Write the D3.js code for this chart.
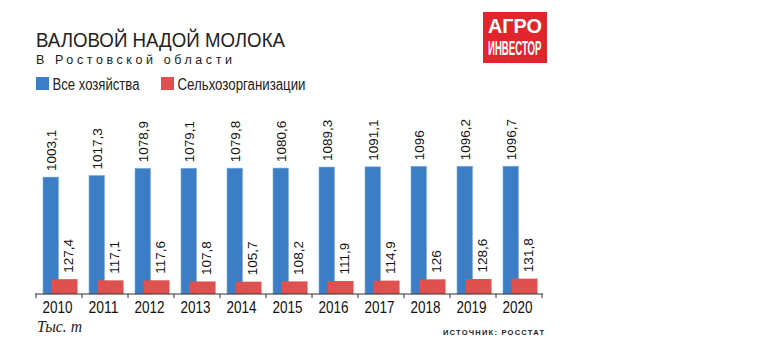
<!DOCTYPE html>
<html><head><meta charset="utf-8">
<script src="https://cdn.jsdelivr.net/npm/d3@7"></script>
<style>
body{margin:0;background:#fff;}
svg{display:block;}
</style></head>
<body>
<svg id="chart" width="782" height="357"></svg>
<script>
const years = ["2010","2011","2012","2013","2014","2015","2016","2017","2018","2019","2020"];
const allFarms = [1003.1,1017.3,1078.9,1079.1,1079.8,1080.6,1089.3,1091.1,1096,1096.2,1096.7];
const agriOrgs = [127.4,117.1,117.6,107.8,105.7,108.2,111.9,114.9,126,128.6,131.8];
const seriesNames = ["Все хозяйства","Сельхозорганизации"];
const title = "ВАЛОВОЙ НАДОЙ МОЛОКА";
const subtitle = "В Ростовской области";
const unitLabel = "Тыс. т";
const sourceLabel = "ИСТОЧНИК: РОССТАТ";

const BLUE = "#3b7ec6", RED = "#de514e";
const NARROW = "'Liberation Sans Narrow','Arial Narrow','Liberation Sans',Arial,sans-serif";
const SANS = "'Liberation Sans',Arial,sans-serif";
const fmt = v => String(v).replace(".", ",");

const svg = d3.select("#chart");
const x = d3.scaleBand().domain(years).range([36, 542]).paddingInner(0).paddingOuter(0);
const y = d3.scaleLinear().domain([0, 1100]).range([294, 165.8]);
const bw = x.bandwidth();

// Title
svg.append("text").attr("x", 36).attr("y", 46.5).text(title)
  .attr("font-family", NARROW).attr("font-size", 21).attr("fill", "#222")
  .attr("textLength", 249).attr("lengthAdjust", "spacingAndGlyphs");
svg.append("text").attr("x", 36).attr("y", 64).text(subtitle)
  .attr("font-family", SANS).attr("font-size", 12.5).attr("fill", "#222")
  .attr("textLength", 196).attr("lengthAdjust", "spacing");

// Legend
const leg = [{n: seriesNames[0], c: BLUE, x: 36, tw: 87}, {n: seriesNames[1], c: RED, x: 161, tw: 128}];
leg.forEach(l => {
  svg.append("rect").attr("x", l.x).attr("y", 77).attr("width", 13).attr("height", 13).attr("fill", l.c);
  svg.append("text").attr("x", l.x + 16.5).attr("y", 90).text(l.n)
    .attr("font-family", NARROW).attr("font-size", 16).attr("fill", "#222")
    .attr("textLength", l.tw).attr("lengthAdjust", "spacingAndGlyphs");
});

// Logo
svg.append("rect").attr("x", 483).attr("y", 12).attr("width", 64).attr("height", 51).attr("fill", "#e0262c");
svg.append("text").attr("x", 488).attr("y", 32.5).text("АГРО")
  .attr("font-family", NARROW).attr("font-weight", "bold").attr("font-size", 19.5).attr("fill", "#fff")
  .attr("textLength", 54).attr("lengthAdjust", "spacingAndGlyphs");
svg.append("text").attr("x", 488).attr("y", 54.5).text("ИНВЕСТОР")
  .attr("font-family", NARROW).attr("font-weight", "bold").attr("font-size", 19.5).attr("fill", "#fff")
  .attr("textLength", 53.5).attr("lengthAdjust", "spacingAndGlyphs");

// Bars
const g = svg.append("g");
const blueOff = 7, blueW = 15.5, redOff = 15.5, redW = 26;
g.selectAll(".b").data(years).join("rect")
  .attr("x", d => x(d) + blueOff).attr("width", blueW)
  .attr("y", (d, i) => y(allFarms[i])).attr("height", (d, i) => y(0) - y(allFarms[i]))
  .attr("fill", BLUE).attr("stroke", "#7fb0e0").attr("stroke-width", 0.6);
g.selectAll(".r").data(years).join("rect")
  .attr("x", d => x(d) + redOff).attr("width", redW)
  .attr("y", (d, i) => y(agriOrgs[i])).attr("height", (d, i) => y(0) - y(agriOrgs[i]))
  .attr("fill", RED);

// Value labels
g.selectAll(".bl").data(years).join("text")
  .attr("transform", (d, i) => `translate(${x(d) + blueOff + blueW / 2 + 4.8},${y(allFarms[i]) - 6}) rotate(-90)`)
  .text((d, i) => fmt(allFarms[i]))
  .attr("font-family", SANS).attr("font-size", 13.5).attr("fill", "#111");
g.selectAll(".rl").data(years).join("text")
  .attr("transform", (d, i) => `translate(${x(d) + redOff + redW / 2 + 8},${y(agriOrgs[i]) - 6.5}) rotate(-90)`)
  .text((d, i) => fmt(agriOrgs[i]))
  .attr("font-family", SANS).attr("font-size", 13.5).attr("fill", "#111");

// Axis
const axis = svg.append("g").attr("transform", `translate(0,${y(0)})`);
axis.append("line").attr("x1", 35).attr("x2", 543).attr("stroke", "#333").attr("stroke-width", 1.2);
const tickXs = years.map(d => x(d)).concat([x(years[years.length - 1]) + bw]);
axis.selectAll(".t").data(tickXs).join("line")
  .attr("x1", d => d).attr("x2", d => d).attr("y1", 0).attr("y2", 4)
  .attr("stroke", "#333").attr("stroke-width", 1);
axis.selectAll(".yl").data(years).join("text")
  .attr("x", d => x(d) + bw / 2 - 1.5).attr("y", 19.3).attr("text-anchor", "middle")
  .text(d => d).attr("font-family", NARROW).attr("font-size", 16).attr("fill", "#111")
  .attr("textLength", 30).attr("lengthAdjust", "spacingAndGlyphs");

// Footer
svg.append("text").attr("x", 37).attr("y", 332).text(unitLabel)
  .attr("font-family", "'Liberation Serif','Times New Roman',serif").attr("font-style", "italic")
  .attr("font-size", 16).attr("fill", "#222")
  .attr("textLength", 45).attr("lengthAdjust", "spacingAndGlyphs");
svg.append("text").attr("x", 443).attr("y", 335).text(sourceLabel)
  .attr("font-family", SANS).attr("font-weight", "bold").attr("font-size", 7.5).attr("fill", "#222")
  .attr("textLength", 101).attr("lengthAdjust", "spacing");
</script>
</body></html>
